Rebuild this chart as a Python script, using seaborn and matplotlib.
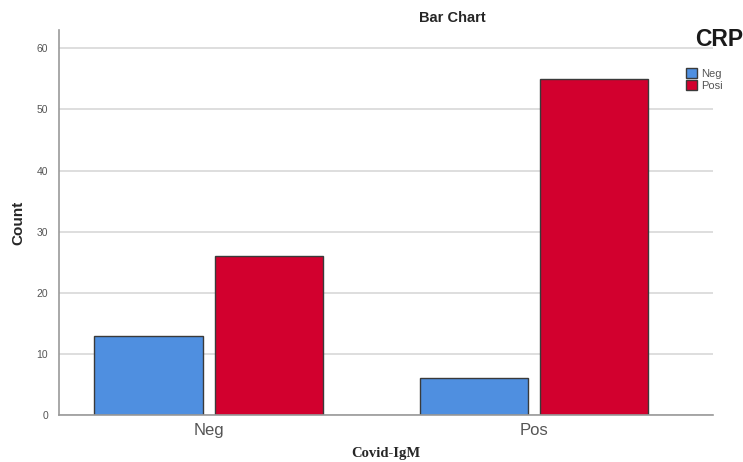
import pandas as pd
import matplotlib.pyplot as plt
import seaborn as sns

# values
igm = ['Neg', 'Neg', 'Pos', 'Pos']
crp = ['Neg', 'Posi', 'Neg', 'Posi']
counts = [13, 26, 6, 55]
df = pd.DataFrame({'Covid-IgM': igm, 'CRP': crp, 'Count': counts})

sns.set_style('white')
plt.rcParams['font.family'] = ['Liberation Sans', 'DejaVu Sans']

fig = plt.figure(figsize=(7.43, 4.62), dpi=100)
ax = fig.add_axes([0.0794, 0.1017, 0.8802, 0.8333])

sns.barplot(data=df, x='Covid-IgM', y='Count', hue='CRP',
            palette=['#4F8FE0', '#D2002E'], saturation=1, width=0.74, gap=0.1,
            edgecolor='#3a3a3a', linewidth=1.0, ax=ax, legend=True)

ax.set_xlim(-0.46, 1.55)
ax.set_ylim(0, 63)
ax.set_yticks([0, 10, 20, 30, 40, 50, 60])
ax.yaxis.grid(True, color='#d8d8d8', linewidth=1.2)
ax.set_axisbelow(True)
for s in ['top', 'right']:
    ax.spines[s].set_visible(False)
for s in ['left', 'bottom']:
    ax.spines[s].set_color('#9a9a9a')
    ax.spines[s].set_linewidth(1.2)
ax.tick_params(axis='y', labelsize=7.5, labelcolor='#555555', length=0, pad=8)
ax.tick_params(axis='x', labelsize=12, labelcolor='#555555', length=0, pad=6)

ax.set_ylabel('Count', fontsize=11, fontweight='bold', labelpad=8)
ax.set_xlabel('Covid-IgM', fontsize=10.5, fontweight='bold',
              family='Liberation Serif', labelpad=6)
ax.set_title('Bar Chart', fontsize=10.5, fontweight='bold', x=0.601, y=1.0, pad=6)

# legend title drawn separately so the gap to the entries matches
fig.text(695 / 743, 1 - 39 / 462, 'CRP', fontsize=16.5, fontweight='bold',
         ha='left', va='center', color='#1a1a1a')
leg = ax.legend(loc='upper left', bbox_to_anchor=(684 / 743, 1 - 66 / 462),
                bbox_transform=fig.transFigure,
                frameon=False, fontsize=8, handlelength=1.0, handleheight=1.0,
                handletextpad=0.3, labelspacing=0.1, borderaxespad=0, borderpad=0.2)
for t in leg.get_texts():
    t.set_color('#555555')

fig.savefig('out.png', dpi=100)
